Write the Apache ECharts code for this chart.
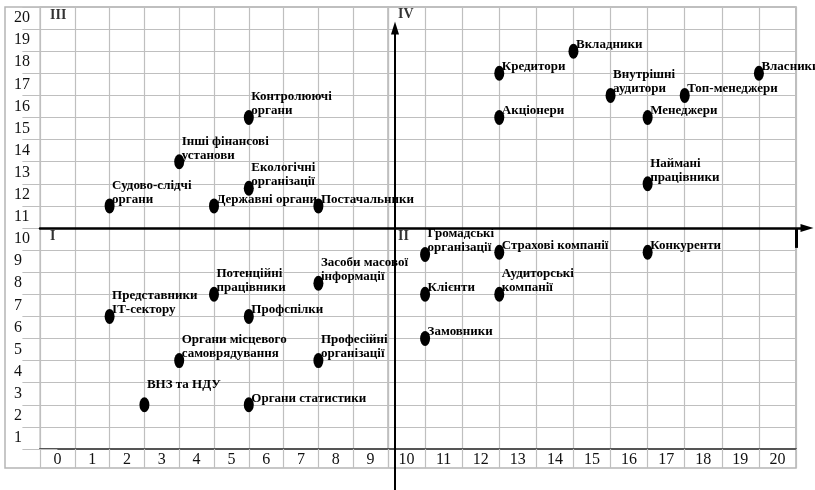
<!DOCTYPE html>
<html><head><meta charset="utf-8">
<script src="https://cdn.jsdelivr.net/npm/echarts@6/dist/echarts.min.js"></script>
<style>html,body{margin:0;padding:0;background:#fff}#c{width:815px;height:490px}</style>
</head><body><div id="c"></div>
<script>
// ---- data ----
const leftXTicks = ['0','1','2','3','4','5','6','7','8','9'];
const rightXTicks = ['10','11','12','13','14','15','16','17','18','19','20'];
const yTicks = ['1','2','3','4','5','6','7','8','9','10','11','12','13','14','15','16','17','18','19','20'];

const stakeholders = [
  'Судово-слідчі\nоргани', 'Інші фінансові\nустанови', 'Державні органи', 'Контролюючі\nоргани',
  'Екологічні\nорганізації', 'Постачальники', 'Вкладники', 'Кредитори', 'Власники',
  'Внутрішні\nаудитори', 'Топ-менеджери', 'Акціонери', 'Менеджери', 'Наймані\nпрацівники',
  'Засоби масової\nінформації', 'Потенційні\nпрацівники', 'Представники\nІТ-сектору', 'Профспілки',
  'Органи місцевого\nсамоврядування', 'Професійні\nорганізації', 'ВНЗ та НДУ', 'Органи статистики',
  'Громадські\nорганізації', 'Страхові компанії', 'Конкуренти', 'Клієнти', 'Аудиторські\nкомпанії', 'Замовники'
];
const xValues = [1.5, 3.5, 4.5, 5.5, 5.5, 7.5, 14.5, 12.5, 19.5, 15.5, 17.5, 12.5, 16.5, 16.5,
                 7.5, 4.5, 1.5, 5.5, 3.5, 7.5, 2.5, 5.5, 10.5, 12.5, 16.5, 10.5, 12.5, 10.5];
const yValues = [11.5, 13.5, 11.5, 15.5, 12.3, 11.5, 18.5, 17.5, 17.5, 16.5, 16.5, 15.5, 15.5, 12.5,
                 8.0, 7.5, 6.5, 6.5, 4.5, 4.5, 2.5, 2.5, 9.3, 9.4, 9.4, 7.5, 7.5, 5.5];

const quadrantNames = ['III', 'I', 'IV', 'II'];
const quadrantX = [-0.5, -0.5, 9.69, 9.69];
const quadrantY = [20.12, 10.14, 20.18, 10.1];

// ---- styling / layout ----
const FONT = 'Liberation Serif';
const GRID_C = '#bfbfbf';
const GRID_W = 1.2;
const labelAbove = {'ВНЗ та НДУ': [7.5, -6]};

const chart = echarts.init(document.getElementById('c'), null, {renderer: 'canvas'});

function catX(data, gridIndex) {
  return {
    type: 'category', gridIndex, data, boundaryGap: true, position: 'bottom',
    axisLine: {show: true, onZero: false, lineStyle: {color: '#555', width: 2}},
    axisTick: {show: true, length: 19, interval: 0, lineStyle: {color: GRID_C, width: GRID_W}},
    axisLabel: {interval: 0, margin: 11, verticalAlign: 'middle', fontFamily: FONT, fontSize: 16, color: '#111'},
    splitLine: {show: true, interval: 0, lineStyle: {color: GRID_C, width: GRID_W}}
  };
}
function catY(gridIndex, showLabels) {
  return {
    type: 'category', gridIndex, data: yTicks, boundaryGap: true,
    axisLine: {show: false},
    axisTick: {show: showLabels, length: 35, interval: 0, lineStyle: {color: GRID_C, width: GRID_W}},
    axisLabel: {show: showLabels, interval: 0, margin: 26, align: 'left', fontFamily: FONT, fontSize: 16, color: '#111'},
    splitLine: {show: true, interval: 0, lineStyle: {color: GRID_C, width: GRID_W}}
  };
}
function hidden(gridIndex, min, max) { return {type: 'value', gridIndex, min, max, show: false}; }
function arrowAxis(gridIndex, kind, width) {
  return {
    type: 'value', gridIndex, min: 0, max: 1, position: kind === 'x' ? 'top' : 'left', z: 10,
    axisLine: {show: true, onZero: false, symbol: ['none', 'triangle'], symbolSize: [8, 13], symbolOffset: [0, 4],
      lineStyle: {color: '#000', width}},
    axisTick: {show: false}, axisLabel: {show: false}, splitLine: {show: false}
  };
}
const plain = (gridIndex) => ({type: 'value', gridIndex, min: 0, max: 1, show: false});

const pointsLeft = [], pointsRight = [];
stakeholders.forEach((n, i) => {
  const item = {name: n, value: [xValues[i], yValues[i]]};
  if (labelAbove[n]) item.label = {position: labelAbove[n]};
  (xValues[i] < 9.5 ? pointsLeft : pointsRight).push(item);
});
const quadLeft = [], quadRight = [];
quadrantNames.forEach((n, i) => {
  const item = {name: n, value: [quadrantX[i], quadrantY[i]],
    label: {distance: quadrantX[i] < 9.5 ? 10 : 3}};
  (quadrantX[i] < 9.5 ? quadLeft : quadRight).push(item);
});

const pointLabel = {
  show: true, formatter: '{b}', position: [7.5, 8], align: 'left', verticalAlign: 'bottom',
  fontFamily: FONT, fontWeight: 'bold', fontSize: 13, lineHeight: 14, color: '#000'
};
const quadLabel = {show: true, formatter: '{b}', position: 'right', fontFamily: FONT, fontWeight: 'bold', fontSize: 14, color: '#000'};

const option = {
  animation: false,
  backgroundColor: '#fff',
  grid: [
    {left: 40, top: 7, width: 348, height: 442, show: true, borderColor: GRID_C, borderWidth: GRID_W},
    {left: 388, top: 7, width: 408, height: 442, show: true, borderColor: GRID_C, borderWidth: GRID_W},
    {left: 5, top: 7, width: 791, height: 461, show: true, borderColor: '#b5b5b5', borderWidth: 1.5, z: 0},
    // horizontal axis with arrow (y = 10.5 line)
    {left: 40, top: 228, width: 763, height: 1},
    // vertical axis with arrow
    {left: 395, top: 32, width: 1, height: 480}
  ],
  xAxis: [catX(leftXTicks, 0), catX(rightXTicks, 1), hidden(0, -0.5, 9.5), hidden(1, 9.5, 20.5), plain(2),
          arrowAxis(3, 'x', 2.5), plain(4)],
  yAxis: [catY(0, true), catY(1, false), hidden(0, 0.5, 20.5), hidden(1, 0.5, 20.5), plain(2),
          plain(3), arrowAxis(4, 'y', 2)],
  series: [
    {
      type: 'scatter', name: 'left', xAxisIndex: 2, yAxisIndex: 2, clip: false, z: 5,
      symbol: 'circle', symbolSize: [10, 15], itemStyle: {color: '#000', opacity: 1},
      label: pointLabel, emphasis: {disabled: true}, data: pointsLeft
    },
    {
      type: 'scatter', name: 'right', xAxisIndex: 3, yAxisIndex: 3, clip: false, z: 5,
      symbol: 'circle', symbolSize: [10, 15], itemStyle: {color: '#000', opacity: 1},
      label: pointLabel, emphasis: {disabled: true}, data: pointsRight,
      markLine: {
        silent: true, symbol: 'none', label: {show: false}, emphasis: {disabled: true},
        lineStyle: {color: '#000', width: 3, type: 'solid'},
        data: [[{coord: [20.5, 10.5]}, {coord: [20.5, 9.6]}]]
      }
    },
    {
      type: 'scatter', name: 'qLeft', xAxisIndex: 2, yAxisIndex: 2, clip: false, z: 6,
      symbolSize: 0, label: quadLabel, emphasis: {disabled: true}, data: quadLeft
    },
    {
      type: 'scatter', name: 'qRight', xAxisIndex: 3, yAxisIndex: 3, clip: false, z: 6,
      symbolSize: 0, label: quadLabel, emphasis: {disabled: true}, data: quadRight
    }
  ]
};
chart.setOption(option);
</script>
</body></html>
